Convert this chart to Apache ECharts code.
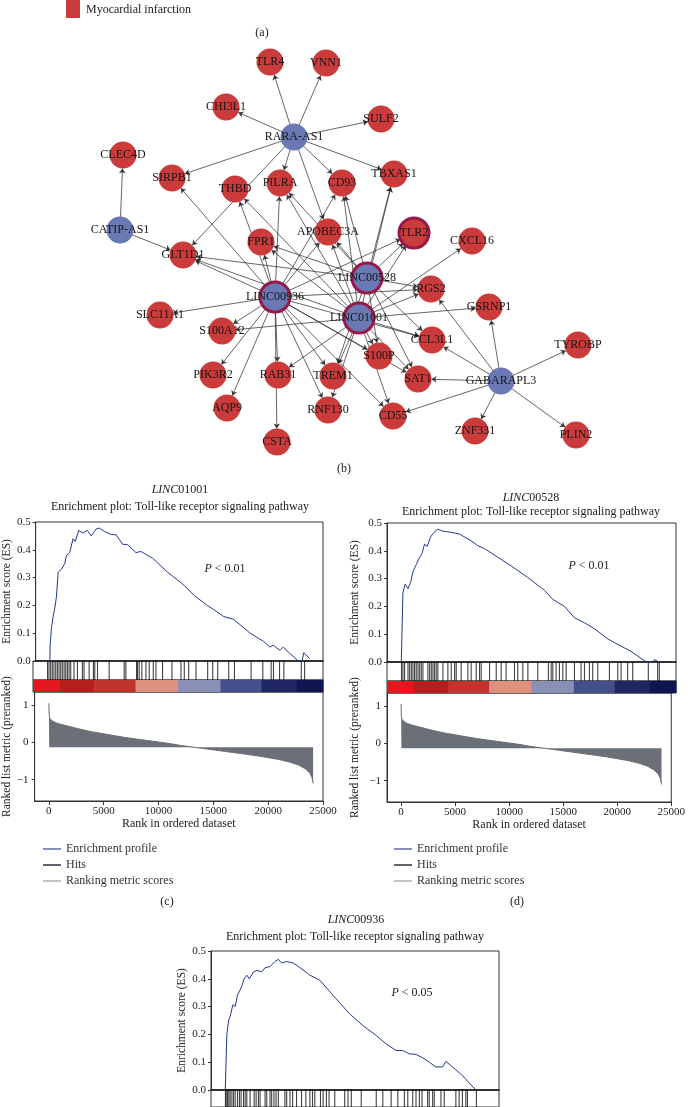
<!DOCTYPE html>
<html><head><meta charset="utf-8">
<script src="https://cdn.jsdelivr.net/npm/echarts@6/dist/echarts.min.js"></script>
<style>html,body{margin:0;padding:0;background:#fff}#c{width:688px;height:1107px}</style>
</head><body><div id="c"></div>
<script>
// ---------------- DATA ----------------
// network (b)
const lncRNAs = ['RARA-AS1','CATIP-AS1','LINC00936','LINC01001','LINC00528','GABARAPL3'];
const mRNAs = ['TLR4','VNN1','CHI3L1','SULF2','CLEC4D','SIRPB1','THBD','PILRA','CD93','TBXAS1','APOBEC3A','TLR2','CXCL16','FPR1','GLT1D1','RGS2','GSRNP1','SLC11A1','S100A12','CCL3L1','TYROBP','S100P','PIK3R2','RAB31','TREM1','SAT1','AQP9','RNF130','CD55','ZNF331','PLIN2','CSTA'];
const highlightedNodes = ['LINC00936','LINC01001','LINC00528','TLR2'];
const targetsRARA = ['TLR4','VNN1','CHI3L1','SULF2','TBXAS1','SIRPB1','GLT1D1','PILRA','CD93','APOBEC3A'];
const targetsCATIP = ['CLEC4D','GLT1D1'];
const targetsGABARAPL3 = ['RGS2','GSRNP1','TYROBP','CCL3L1','SAT1','CD55','ZNF331','PLIN2'];
const targets00936 = ['GLT1D1','SIRPB1','THBD','FPR1','PILRA','CD93','APOBEC3A','TLR2','RGS2','SLC11A1','S100A12','PIK3R2','AQP9','RAB31','CSTA','RNF130','TREM1','S100P','CD55','CCL3L1','SAT1'];
const targets01001 = ['GLT1D1','FPR1','PILRA','CD93','APOBEC3A','TLR2','TBXAS1','CXCL16','RGS2','GSRNP1','CCL3L1','S100P','SAT1','CD55','TREM1','RNF130','RAB31','S100A12','THBD'];
const targets00528 = ['GLT1D1','FPR1','PILRA','CD93','APOBEC3A','TLR2','TBXAS1','RGS2','CCL3L1','S100P','TREM1','SAT1'];

// GSEA (c) LINC01001, (d) LINC00528, (e) LINC00936 : [rank, enrichment score]
const esC = [[0,0],[30,0.06],[150,0.12],[300,0.16],[450,0.19],[600,0.23],[760,0.32],[1060,0.33],[1360,0.35],[1520,0.38],[1820,0.39],[2120,0.44],[2330,0.43],[2640,0.47],[3030,0.46],[3420,0.47],[3790,0.45],[4240,0.475],[4550,0.478],[5000,0.466],[5610,0.455],[6060,0.454],[6670,0.42],[7120,0.418],[7880,0.39],[8330,0.394],[9390,0.37],[10760,0.32],[12270,0.273],[13180,0.237],[14390,0.2],[15000,0.185],[15910,0.16],[16820,0.15],[18330,0.1],[19540,0.071],[20150,0.05],[20450,0.057],[21060,0.038],[21360,0.05],[21970,0.027],[22730,0],[23030,-0.01],[23240,0.03],[23790,0.008]];
const esD = [[0,0],[150,0.25],[360,0.28],[610,0.264],[850,0.286],[1060,0.325],[1360,0.35],[1580,0.37],[1880,0.39],[2120,0.424],[2360,0.416],[2670,0.45],[2970,0.466],[3330,0.478],[3640,0.472],[3940,0.47],[4850,0.464],[5300,0.46],[6360,0.436],[6970,0.418],[7570,0.408],[9990,0.346],[11510,0.304],[13030,0.258],[13790,0.225],[14850,0.2],[15760,0.159],[16670,0.141],[17570,0.12],[18790,0.083],[20000,0.057],[20910,0.038],[22120,0.005],[22730,-0.006],[23030,0.008],[23480,0]];
const esE = [[0,0],[150,0.2],[300,0.25],[450,0.265],[700,0.307],[910,0.3],[1120,0.342],[1360,0.36],[1520,0.375],[1730,0.40],[1970,0.413],[2210,0.40],[2580,0.425],[2880,0.43],[3330,0.425],[3640,0.44],[4090,0.444],[4540,0.462],[4850,0.47],[5150,0.457],[5610,0.462],[6210,0.457],[6820,0.44],[7730,0.413],[8640,0.395],[9850,0.34],[11360,0.274],[12570,0.232],[13790,0.196],[14690,0.166],[15600,0.142],[16210,0.142],[16820,0.13],[17420,0.128],[18030,0.116],[18630,0.1],[19240,0.083],[19850,0.083],[20150,0.103],[20600,0.088],[21660,0.052],[22880,0]];

const hitsC = [20,150,300,450,600,760,910,1060,1210,1360,1520,1670,1820,1970,2120,2420,2730,3180,3330,3790,4180,4300,4550,5610,6970,7120,8090,8180,8330,8570,8940,9240,9610,9850,10450,11300,12120,12420,12820,13480,14540,15000,15450,16450,16970,18480,19540,20300,20510,21060,21450,23030,23330];
const hitsD = [20,150,300,610,760,910,1060,1210,1360,1520,1670,1820,1970,2420,2580,2730,2880,3030,3180,3330,3790,4240,4550,4850,5000,5450,6060,6360,6820,7120,7270,8030,8640,9090,9540,10300,10600,11060,11520,12420,13390,13640,13790,14090,14390,14700,15000,15760,16360,16670,17120,17420,17880,18940,19700,20000,20600,21060,22480,23330,23480];
const hitsE = [20,90,210,330,450,610,760,910,1120,1300,1450,1670,1820,1970,2270,2640,2820,3030,3180,3640,3790,4090,4240,4450,4640,4850,5450,5610,5910,6150,6510,6970,7360,7730,7970,8180,8700,8940,9240,9480,10000,10910,11210,11510,12420,13790,14390,15150,15760,16360,16670,17120,17420,17730,17970,18480,18630,18940,19090,19700,20000,21060,21360,21660,21970,22120,22940];

// ranked list metric [rank, metric]
const rankedMetric = [[0,1.05],[30,0.72],[100,0.64],[300,0.58],[600,0.53],[1000,0.49],[1700,0.44],[2500,0.38],[3200,0.33],[4000,0.28],[5000,0.23],[6000,0.18],[7000,0.13],[8000,0.09],[9000,0.05],[10000,0.01],[11000,-0.03],[12000,-0.08],[13000,-0.12],[14000,-0.16],[15000,-0.2],[16000,-0.24],[17000,-0.28],[18000,-0.32],[19000,-0.36],[20000,-0.41],[21000,-0.46],[22000,-0.53],[22800,-0.61],[23400,-0.71],[23800,-0.82],[24000,-0.95],[24100,-1.1]];
const metricBaseline = -0.13;

// colour bar segments (rank boundaries) and colours
const colorBarStops = [-1300,1150,4250,8000,11850,15700,19420,22620,25000];
const colorBarColors = ['#e3171d','#b3201b','#c0352b','#e0907e','#8990b6','#454f8e','#1f2663','#0f1652'];

const rankTicks = [0,5000,10000,15000,20000,25000];
const metricTicks = [-1,0,1];

// ---------------- STYLE / LAYOUT ----------------
const FONT = '"Liberation Serif","DejaVu Serif",serif';
const X_MIN = -1300, X_MAX = 25000;
const nodeLayout = {
 'TLR4':[270,62],'VNN1':[326,63],'CHI3L1':[226,107],'RARA-AS1':[294,137],'SULF2':[381,119],
 'CLEC4D':[123,155],'SIRPB1':[172,178],'THBD':[235,189],'PILRA':[280,183],'CD93':[342,183],'TBXAS1':[394,174],
 'CATIP-AS1':[120,230],'APOBEC3A':[328,232],'TLR2':[414,233],'CXCL16':[472,241],'FPR1':[261,242],'GLT1D1':[183,255],
 'LINC00528':[367,278],'RGS2':[431,289],'LINC00936':[275,297],'GSRNP1':[489,307],'SLC11A1':[160,315],'LINC01001':[359,318],
 'S100A12':[222,331],'CCL3L1':[432,340],'TYROBP':[578,345],'S100P':[379,356],'PIK3R2':[213,375],'RAB31':[278,375],'TREM1':[333,376],
 'SAT1':[418,379],'GABARAPL3':[501,381],'AQP9':[227,408],'RNF130':[328,410],'CD55':[393,416],'ZNF331':[475,431],'PLIN2':[576,435],'CSTA':[277,442]
};

const chart = echarts.init(document.getElementById('c'), null, {renderer:'canvas', width:688, height:1107});

const grids = [{left:0, top:0, width:688, height:1107, show:false}];
const xAxes = [{type:'value', gridIndex:0, min:0, max:688, show:false}];
const yAxes = [{type:'value', gridIndex:0, min:0, max:1107, inverse:true, show:false}];

const nodes = lncRNAs.concat(mRNAs).map(n => {
  const isL = lncRNAs.includes(n), hl = highlightedNodes.includes(n);
  return {name:n, value:nodeLayout[n], symbolSize: hl ? 30 : 27,
    itemStyle:{color: isL ? '#6a78b4' : '#cb3b3b', borderColor: hl ? '#97184a' : '#fff', borderWidth: hl ? 3 : 0}};
});
const links = [];
[['RARA-AS1',targetsRARA],['CATIP-AS1',targetsCATIP],['GABARAPL3',targetsGABARAPL3],['LINC00936',targets00936],['LINC01001',targets01001],['LINC00528',targets00528]]
  .forEach(([s,ts]) => ts.forEach(t => links.push({source:s, target:t})));

const series = [{
  type:'graph', coordinateSystem:'cartesian2d', xAxisIndex:0, yAxisIndex:0,
  data:nodes, links:links, edgeSymbol:['none','arrow'], edgeSymbolSize:[0,5],
  lineStyle:{color:'#2a2a2a', width:0.8, opacity:0.9, curveness:0},
  label:{show:true, position:'inside', color:'#151515', fontFamily:FONT, fontSize:12},
  emphasis:{disabled:true}, silent:true, z:3
}];

const axisText = {fontFamily:FONT, fontSize:11, color:'#222'};
const panels = [
 {left:33, width:290, top:522, es:esC, hits:hitsC, ranked:true, esGap:19, rkGap:19},
 {left:387, width:289, top:523, es:esD, hits:hitsD, ranked:true, esGap:26, rkGap:26},
 {left:211, width:288, top:951, es:esE, hits:hitsE, ranked:false, esGap:21}
];
const ES_H = 139, HIT_H = 19, BAR_H = 12, RK_H = 109;
const leftLine = {show:true, onZero:false, lineStyle:{color:'#333', width:1}};

panels.forEach(p => {
  // ES
  let gi = grids.length;
  grids.push({left:p.left, top:p.top, width:p.width, height:ES_H, show:true, borderColor:'#333', borderWidth:1});
  xAxes.push({type:'value', gridIndex:gi, min:X_MIN, max:X_MAX, axisLabel:{show:false}, axisTick:{show:false}, splitLine:{show:false}, axisLine:{show:true, onZero:false, lineStyle:{color:'#222', width:1.6}}});
  yAxes.push({type:'value', gridIndex:gi, min:0, max:0.5, interval:0.1, axisLine:leftLine, splitLine:{show:false},
    axisTick:{show:true, length:3, lineStyle:{color:'#333'}},
    axisLabel:Object.assign({formatter:v => v.toFixed(1), margin:5}, axisText),
    name:'Enrichment score (ES)', nameLocation:'middle', nameGap:p.esGap, nameTextStyle:{fontFamily:FONT, fontSize:11.5, color:'#222'}});
  series.push({type:'line', name:'Enrichment profile', xAxisIndex:gi, yAxisIndex:gi, data:p.es, showSymbol:false,
    lineStyle:{color:'#26398a', width:1}, itemStyle:{color:'#26398a'}, silent:true, animation:false});
  // hits
  gi = grids.length;
  grids.push({left:p.left, top:p.top+ES_H, width:p.width, height:HIT_H, show:true, borderColor:'#333', borderWidth:1});
  xAxes.push({type:'value', gridIndex:gi, min:X_MIN, max:X_MAX, show:false});
  yAxes.push({type:'value', gridIndex:gi, min:0, max:1, show:false});
  series.push({type:'scatter', name:'Hits', xAxisIndex:gi, yAxisIndex:gi, data:p.hits.map(r => [r,0.5]),
    symbol:'rect', symbolSize:[1.1,HIT_H], itemStyle:{color:'#111'}, silent:true});
  if (!p.ranked) return;
  // colour bar
  gi = grids.length;
  grids.push({left:p.left, top:p.top+ES_H+HIT_H, width:p.width, height:BAR_H, show:true, borderColor:'#333', borderWidth:1});
  xAxes.push({type:'value', gridIndex:gi, min:X_MIN, max:X_MAX, show:false});
  yAxes.push({type:'value', gridIndex:gi, min:0, max:1, show:false});
  series.push({type:'custom', name:'colorbar', xAxisIndex:gi, yAxisIndex:gi, silent:true,
    data:colorBarColors.map((c,i) => [colorBarStops[i], colorBarStops[i+1], i]),
    renderItem:(params, api) => {
      const a = api.coord([api.value(0), 1]), b = api.coord([api.value(1), 0]);
      return {type:'rect', shape:{x:a[0], y:a[1], width:b[0]-a[0]+0.5, height:b[1]-a[1]}, style:{fill:colorBarColors[api.value(2)]}};
    }});
  // ranked metric
  gi = grids.length;
  grids.push({left:p.left, top:p.top+ES_H+HIT_H+BAR_H, width:p.width, height:RK_H, show:true, borderColor:'#333', borderWidth:1});
  xAxes.push({type:'value', gridIndex:gi, min:X_MIN, max:X_MAX, splitLine:{show:false},
    axisLine:{show:true, onZero:false, lineStyle:{color:'#333'}},
    axisTick:{show:true, customValues:rankTicks, length:4, lineStyle:{color:'#333'}},
    axisLabel:Object.assign({customValues:rankTicks, margin:5, formatter:v => String(v)}, axisText),
    name:'Rank in ordered dataset', nameLocation:'middle', nameGap:16, nameTextStyle:{fontFamily:FONT, fontSize:12, color:'#222'}});
  yAxes.push({type:'value', gridIndex:gi, min:-1.57, max:1.35, splitLine:{show:false}, axisLine:leftLine,
    axisTick:{show:true, customValues:metricTicks, length:3, lineStyle:{color:'#333'}},
    axisLabel:Object.assign({customValues:metricTicks, margin:6, formatter:v => v < 0 ? '\u2212' + Math.abs(v) : String(v)}, axisText),
    name:'Ranked list metric (preranked)', nameLocation:'middle', nameGap:p.rkGap, nameTextStyle:{fontFamily:FONT, fontSize:11.5, color:'#222'}});
  series.push({type:'line', name:'Ranking metric scores', xAxisIndex:gi, yAxisIndex:gi, data:rankedMetric, showSymbol:false,
    lineStyle:{color:'#6b7076', width:1}, itemStyle:{color:'#6b7076'},
    areaStyle:{color:'#6b7076', opacity:1, origin:metricBaseline}, silent:true});
});

const legendData = [
  {name:'Enrichment profile', icon:'rect', itemStyle:{color:'#8690c0'}},
  {name:'Hits', icon:'rect', itemStyle:{color:'#3a3f4a'}},
  {name:'Ranking metric scores', icon:'rect', itemStyle:{color:'#c4c4c4'}}
];
const mkLegend = left => ({left:left, top:838, orient:'vertical', itemWidth:18, itemHeight:2, itemGap:4, selectedMode:false,
  textStyle:{fontFamily:FONT, fontSize:12, color:'#333'}, data:legendData});

const txt = (x, y, text, size, extra) => ({type:'text', x:x, y:y, silent:true,
  style:Object.assign({text:text, fontFamily:FONT, fontSize:size, fill:'#222', align:'center', verticalAlign:'middle',
    rich:{i:{fontStyle:'italic', fontFamily:FONT, fontSize:size, fill:'#222'}}}, extra || {})});

const graphic = [
  {type:'rect', shape:{x:66, y:-1, width:14, height:19}, style:{fill:'#cb3b3b'}, silent:true},
  txt(86, 10, 'Myocardial infarction', 12, {align:'left'}),
  txt(262, 33, '(a)', 12),
  txt(344, 469, '(b)', 12),
  txt(167, 902, '(c)', 12),
  txt(517, 902, '(d)', 12),
  txt(180, 490, '{i|LINC}01001', 12),
  txt(180, 507, 'Enrichment plot: Toll-like receptor signaling pathway', 12),
  txt(225, 569, '{i|P} < 0.01', 12),
  txt(531, 498, '{i|LINC}00528', 12),
  txt(531, 512, 'Enrichment plot: Toll-like receptor signaling pathway', 12),
  txt(589, 566, '{i|P} < 0.01', 12),
  txt(356, 920, '{i|LINC}00936', 12),
  txt(355, 937, 'Enrichment plot: Toll-like receptor signaling pathway', 12),
  txt(412, 993, '{i|P} < 0.05', 12)
];

chart.setOption({
  animation:false, backgroundColor:'#fff',
  grid:grids, xAxis:xAxes, yAxis:yAxes, series:series,
  legend:[mkLegend(38), mkLegend(389)],
  graphic:graphic
});
</script></body></html>
